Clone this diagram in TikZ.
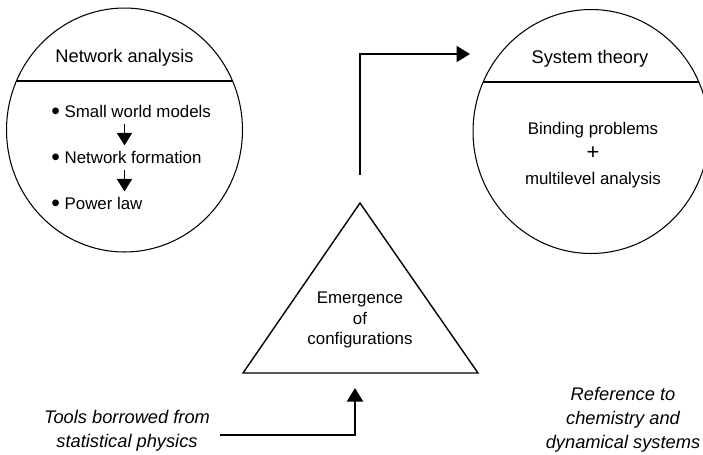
\documentclass[tikz,border=0pt]{standalone}
\usepackage{fontspec}
\setmainfont{Liberation Sans}
\usepackage{tikz}
\usetikzlibrary{shapes.geometric, arrows.meta, positioning, calc}

\newcommand{\bigbullet}{\raisebox{-0.12em}{\fontsize{14}{14}\selectfont\textbullet}}

\begin{document}
\begin{tikzpicture}[x=0.02cm, y=-0.02cm,
  circ/.style={ellipse, draw, line width=0.6pt, minimum width=4.72cm,
               minimum height=4.88cm, inner sep=0pt},
  chord/.style={line width=0.8pt},
  head/.style={font=\fontsize{10.4}{12.5}\selectfont, anchor=base},
  item/.style={font=\fontsize{9.6}{11.5}\selectfont, anchor=base west, inner sep=0.1cm},
  body/.style={font=\fontsize{9.6}{14.2}\selectfont, align=center},
  tritext/.style={font=\fontsize{9.6}{11.9}\selectfont, align=center},
  note/.style={font=\fontsize{10.4}{13.6}\selectfont\itshape, align=center, inner xsep=0.2cm},
  bigarr/.style={line width=1.1pt, -{Triangle[length=0.27cm, width=0.32cm]}},
  smallarr/.style={line width=1.1pt, -{Triangle[length=0.25cm, width=0.3cm]}},
]
\useasboundingbox (0,0) rectangle (703,454);

% Circles
\node[circ] (netw) at (124.5,130) {};
\node[circ] (syst) at (591,131.5) {};
\draw[chord] ($(netw.center)+(-108,-49)$) -- ($(netw.center)+(108,-49)$);
\draw[chord] ($(syst.center)+(-108,-49.5)$) -- ($(syst.center)+(108,-49.5)$);

% Headers
\node[head] (netwtitle) at (124.5,62) {Network analysis};
\node[head] (systtitle) at (590,63) {System theory};

% Network analysis items
\node[item] (small) at (46,117) {\bigbullet\ Small world models};
\node[item] (form) at (46,163) {\bigbullet\ Network formation};
\node[item] (power) at (46,209) {\bigbullet\ Power law};
\draw[smallarr] (small.south -| netw.center) -- (form.north -| netw.center);
\draw[smallarr] (form.south -| netw.center) -- (power.north -| netw.center);

% System theory text
\node[body] (bind) at (593,155) {Binding problems\\{\fontsize{12.5}{14.2}\selectfont +}\\multilevel analysis};

% Triangle
\coordinate (apex) at (360,203);
\coordinate (bl) at (243,373);
\coordinate (br) at (478,373);
\draw[line width=0.8pt, line join=miter] (apex) -- (bl) -- (br) -- cycle;
\node[tritext] (emerg) at (360,320) {Emergence\\of\\configurations};

% Side notes
\node[note] (tools) at (127,431) {Tools borrowed from\\statistical physics};
\node[note] (chem) at (623,420) {Reference to\\chemistry and\\dynamical systems};

% Connectors
\coordinate (upout) at ($(apex)+(0,-28)$);
\coordinate (upin) at (470,54);
\coordinate (inlet) at (355,388);
\draw[bigarr] (upout) |- (upin);
\draw[bigarr] ([yshift=-0.08cm]tools.east) -| (inlet);
\end{tikzpicture}
\end{document}
